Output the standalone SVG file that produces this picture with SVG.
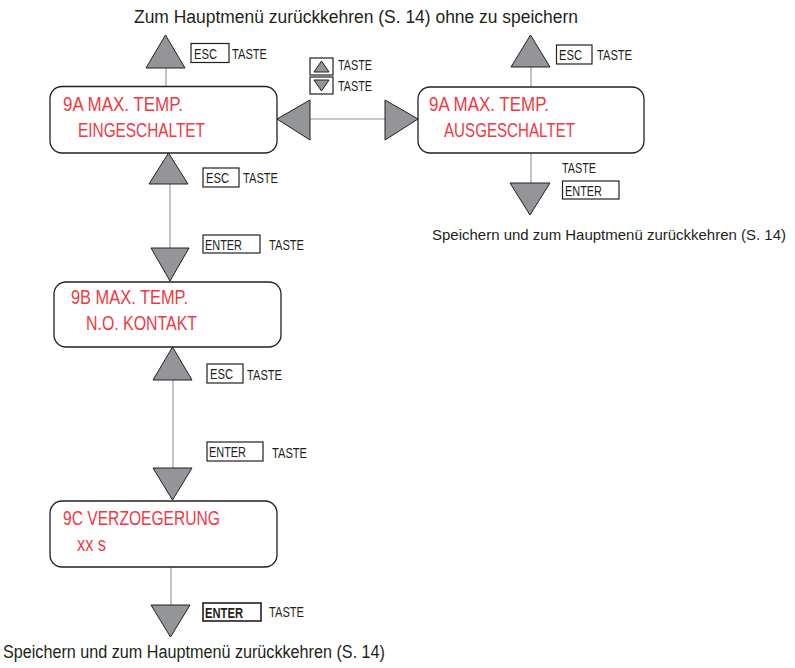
<svg xmlns="http://www.w3.org/2000/svg" width="795" height="668" viewBox="0 0 795 668">
  <style>
    text { font-family: "Liberation Sans Narrow", "Liberation Sans", Arial, sans-serif; }
    .lbl { font-size: 14px; fill: #231f20; }
    .note { font-size: 18px; fill: #231f20; }
    .scr { font-size: 20px; fill: #ef3a45; }
    .box { fill: #ffffff; stroke: #231f20; stroke-width: 1.3; }
    .key { fill: #ffffff; stroke: #231f20; stroke-width: 1.2; }
    .tri { fill: #939598; stroke: #231f20; stroke-width: 1; stroke-linejoin: miter; }
    .line { stroke: #b5b5b5; stroke-width: 1.6; fill: none; }
  </style>

  <!-- connector lines -->
  <g id="connectors">
    <line class="line" x1="166" y1="68" x2="166" y2="87"/>
    <line class="line" x1="531" y1="67" x2="531" y2="87"/>
    <line class="line" x1="310" y1="119" x2="385" y2="119"/>
    <line class="line" x1="531" y1="153" x2="531" y2="183"/>
    <line class="line" x1="170" y1="184" x2="170" y2="248"/>
    <line class="line" x1="173" y1="380" x2="173" y2="468"/>
    <line class="line" x1="171" y1="567" x2="171" y2="605"/>
  </g>

  <!-- arrowheads and key hints -->
  <g id="arrows">
    <!-- ESC up, top left -->
    <polygon class="tri" points="146,68 185,68 165.5,35"/>
    <rect class="key" x="191" y="43.5" width="38" height="19"/>
    <text class="lbl" x="194" y="58.5" textLength="23" lengthAdjust="spacingAndGlyphs">ESC</text>
    <text class="lbl" x="232" y="59" textLength="35" lengthAdjust="spacingAndGlyphs">TASTE</text>

    <!-- ESC up, top right -->
    <polygon class="tri" points="511,67 550,67 530.5,35"/>
    <rect class="key" x="556.5" y="45" width="35.5" height="19"/>
    <text class="lbl" x="559" y="60" textLength="23" lengthAdjust="spacingAndGlyphs">ESC</text>
    <text class="lbl" x="597" y="60" textLength="35" lengthAdjust="spacingAndGlyphs">TASTE</text>

    <!-- up / down key hints between the two screens -->
    <rect class="key" x="310" y="58" width="23" height="17"/>
    <polygon class="tri" points="314,72 329,72 321.5,61"/>
    <text class="lbl" x="338" y="70" textLength="34" lengthAdjust="spacingAndGlyphs">TASTE</text>
    <rect class="key" x="310" y="77" width="23" height="17"/>
    <polygon class="tri" points="314,80 329,80 321.5,91"/>
    <text class="lbl" x="338" y="91" textLength="34" lengthAdjust="spacingAndGlyphs">TASTE</text>

    <polygon class="tri" points="310,100 310,140 277,119"/>
    <polygon class="tri" points="385,100 385,140 418,119"/>

    <!-- ENTER down, right column -->
    <text class="lbl" x="562" y="173" textLength="34" lengthAdjust="spacingAndGlyphs">TASTE</text>
    <rect class="key" x="562.5" y="181" width="56.5" height="18"/>
    <text class="lbl" x="565" y="195.5" textLength="37" lengthAdjust="spacingAndGlyphs">ENTER</text>
    <polygon class="tri" points="510,183 550,183 530,215"/>

    <!-- ESC up below 9A -->
    <polygon class="tri" points="149,184 188,184 168.5,153"/>
    <rect class="key" x="203" y="168" width="36" height="19"/>
    <text class="lbl" x="206" y="183" textLength="23" lengthAdjust="spacingAndGlyphs">ESC</text>
    <text class="lbl" x="243" y="183" textLength="35" lengthAdjust="spacingAndGlyphs">TASTE</text>

    <!-- ENTER down into 9B -->
    <rect class="key" x="203" y="235" width="57" height="18"/>
    <text class="lbl" x="205" y="249.5" textLength="37" lengthAdjust="spacingAndGlyphs">ENTER</text>
    <text class="lbl" x="269" y="250" textLength="35" lengthAdjust="spacingAndGlyphs">TASTE</text>
    <polygon class="tri" points="151,248 189,248 170,281"/>

    <!-- ESC up below 9B -->
    <polygon class="tri" points="153,380 192,380 172.5,347"/>
    <rect class="key" x="207" y="364" width="36" height="19"/>
    <text class="lbl" x="210" y="379" textLength="23" lengthAdjust="spacingAndGlyphs">ESC</text>
    <text class="lbl" x="247" y="380" textLength="35" lengthAdjust="spacingAndGlyphs">TASTE</text>

    <!-- ENTER down into 9C -->
    <rect class="key" x="207" y="442" width="56" height="19"/>
    <text class="lbl" x="209" y="457" textLength="37" lengthAdjust="spacingAndGlyphs">ENTER</text>
    <text class="lbl" x="272" y="458" textLength="35" lengthAdjust="spacingAndGlyphs">TASTE</text>
    <polygon class="tri" points="153,468 192,468 172.5,500"/>

    <!-- ENTER down below 9C -->
    <polygon class="tri" points="151,605 190,605 170.5,637"/>
    <rect class="key" x="203" y="603" width="58" height="18" style="stroke-width:1.6"/>
    <text class="lbl" x="205" y="617.5" textLength="38" lengthAdjust="spacingAndGlyphs" style="font-weight:bold">ENTER</text>
    <text class="lbl" x="269" y="617" textLength="35" lengthAdjust="spacingAndGlyphs">TASTE</text>
  </g>

  <!-- notes -->
  <g id="notes">
    <text class="note" x="134" y="23" textLength="444" lengthAdjust="spacingAndGlyphs">Zum Hauptmenü zurückkehren (S. 14) ohne zu speichern</text>
    <text class="note" x="432" y="240" textLength="354" lengthAdjust="spacingAndGlyphs" style="font-size:14.5px">Speichern und zum Hauptmenü zurückkehren (S. 14)</text>
    <text class="note" x="3" y="658" textLength="382" lengthAdjust="spacingAndGlyphs">Speichern und zum Hauptmenü zurückkehren (S. 14)</text>
  </g>

  <!-- screens -->
  <g id="node-9a-ein">
    <rect class="box" x="50" y="86.5" width="227" height="66.5" rx="12"/>
    <text class="scr" x="63" y="111" textLength="120" lengthAdjust="spacingAndGlyphs">9A MAX. TEMP.</text>
    <text class="scr" x="78" y="137" textLength="127" lengthAdjust="spacingAndGlyphs">EINGESCHALTET</text>
  </g>

  <g id="node-9a-aus">
    <rect class="box" x="418" y="87" width="226" height="66" rx="12"/>
    <text class="scr" x="429" y="111" textLength="120" lengthAdjust="spacingAndGlyphs">9A MAX. TEMP.</text>
    <text class="scr" x="444" y="137" textLength="131" lengthAdjust="spacingAndGlyphs">AUSGESCHALTET</text>
  </g>

  <g id="node-9b">
    <rect class="box" x="54" y="282" width="227" height="65" rx="12"/>
    <text class="scr" x="71" y="304" textLength="117" lengthAdjust="spacingAndGlyphs">9B MAX. TEMP.</text>
    <text class="scr" x="86" y="330" textLength="111" lengthAdjust="spacingAndGlyphs">N.O. KONTAKT</text>
  </g>

  <g id="node-9c">
    <rect class="box" x="50" y="501" width="227" height="66" rx="12"/>
    <text class="scr" x="63" y="525" textLength="157" lengthAdjust="spacingAndGlyphs">9C VERZOEGERUNG</text>
    <text class="scr" x="77" y="551" textLength="29" lengthAdjust="spacingAndGlyphs">xx s</text>
  </g>
</svg>
